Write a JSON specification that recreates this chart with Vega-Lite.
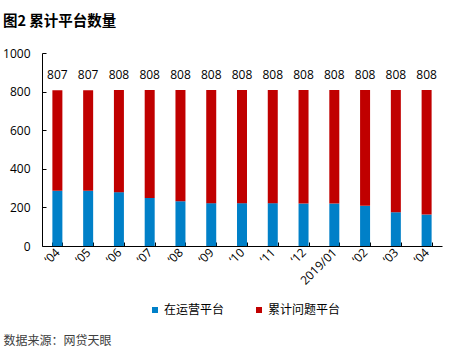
{
  "$schema": "https://vega.github.io/schema/vega-lite/v6.json",
  "width": 400,
  "height": 193,
  "autosize": "none",
  "padding": {"left": 42, "top": 53, "right": 12, "bottom": 104},
  "background": "white",
  "config": {
    "view": {"stroke": null},
    "font": "Noto Sans CJK SC",
    "axisX": {
      "labelAngle": -45,
      "labelAlign": "right",
      "labelBaseline": "middle",
      "labelFontSize": 12,
      "labelFont": "Open Sans",
      "labelColor": "#000000",
      "labelPadding": 8,
      "tickBand": "extent",
      "tickSize": -4,
      "tickColor": "#000000",
      "domainColor": "#000000",
      "titleFontSize": 12,
      "titleFontWeight": "normal",
      "titleColor": "#404040",
      "titleAnchor": "start",
      "titleAlign": "left",
      "titleBaseline": "middle",
      "titleX": -39,
      "titleY": 94
    },
    "axisY": {
      "labelOverlap": false,
      "grid": false,
      "tickSize": -4,
      "tickColor": "#000000",
      "domainColor": "#000000",
      "labelFont": "Open Sans",
      "labelFontSize": 12,
      "labelColor": "#000000",
      "labelPadding": 16
    }
  },
  "title": {
    "text": "图2  累计平台数量",
    "anchor": "start",
    "frame": "group",
    "dx": -39,
    "offset": 18,
    "fontSize": 14.5,
    "fontWeight": "bold",
    "color": "#000000"
  },
  "data": {
    "values": [
      {"m": "‘04", "op": 286, "problem": 521, "total": 807},
      {"m": "‘05", "op": 286, "problem": 521, "total": 807},
      {"m": "‘06", "op": 279, "problem": 529, "total": 808},
      {"m": "‘07", "op": 249, "problem": 559, "total": 808},
      {"m": "‘08", "op": 232, "problem": 576, "total": 808},
      {"m": "‘09", "op": 222, "problem": 586, "total": 808},
      {"m": "‘10", "op": 222, "problem": 586, "total": 808},
      {"m": "‘11", "op": 222, "problem": 586, "total": 808},
      {"m": "‘12", "op": 220, "problem": 588, "total": 808},
      {"m": "2019/01", "op": 220, "problem": 588, "total": 808},
      {"m": "‘02", "op": 208, "problem": 600, "total": 808},
      {"m": "‘03", "op": 175, "problem": 633, "total": 808},
      {"m": "‘04\u200b", "op": 163, "problem": 645, "total": 808}
    ]
  },
  "layer": [
    {
      "transform": [
        {"fold": ["op", "problem"], "as": ["series", "v"]}
      ],
      "mark": {"type": "bar", "size": 10},
      "encoding": {
        "x": {
          "field": "m",
          "type": "ordinal",
          "sort": null,
          "scale": {"paddingInner": 0.675, "paddingOuter": 0.3375},
          "axis": {"title": "数据来源：网贷天眼"}
        },
        "y": {
          "field": "v",
          "type": "quantitative",
          "stack": "zero",
          "scale": {"domain": [0, 1000]},
          "axis": {"title": null, "format": "d", "values": [0, 200, 400, 600, 800, 1000]}
        },
        "color": {
          "field": "series",
          "type": "nominal",
          "scale": {"domain": ["op", "problem"], "range": ["#0080C8", "#C00000"]},
          "legend": {
            "title": null,
            "orient": "none",
            "direction": "horizontal",
            "legendX": 107,
            "legendY": 251,
            "symbolType": "square",
            "symbolSize": 36,
            "symbolStrokeWidth": 0,
            "labelExpr": "datum.value == 'op' ? '在运营平台' : '累计问题平台'",
            "labelFontSize": 12,
            "labelColor": "#000000",
            "columnPadding": 28,
            "labelOffset": 3
          }
        },
        "order": {"field": "series", "type": "nominal", "sort": "ascending"}
      }
    },
    {
      "mark": {"type": "text", "dy": -15, "font": "Open Sans", "fontSize": 12, "color": "#000000"},
      "encoding": {
        "x": {"field": "m", "type": "ordinal", "sort": null, "axis": {"title": "数据来源：网贷天眼"}},
        "y": {"field": "total", "type": "quantitative", "axis": {"title": null, "format": "d", "values": [0, 200, 400, 600, 800, 1000]}},
        "text": {"field": "total", "type": "quantitative"}
      }
    }
  ]
}
